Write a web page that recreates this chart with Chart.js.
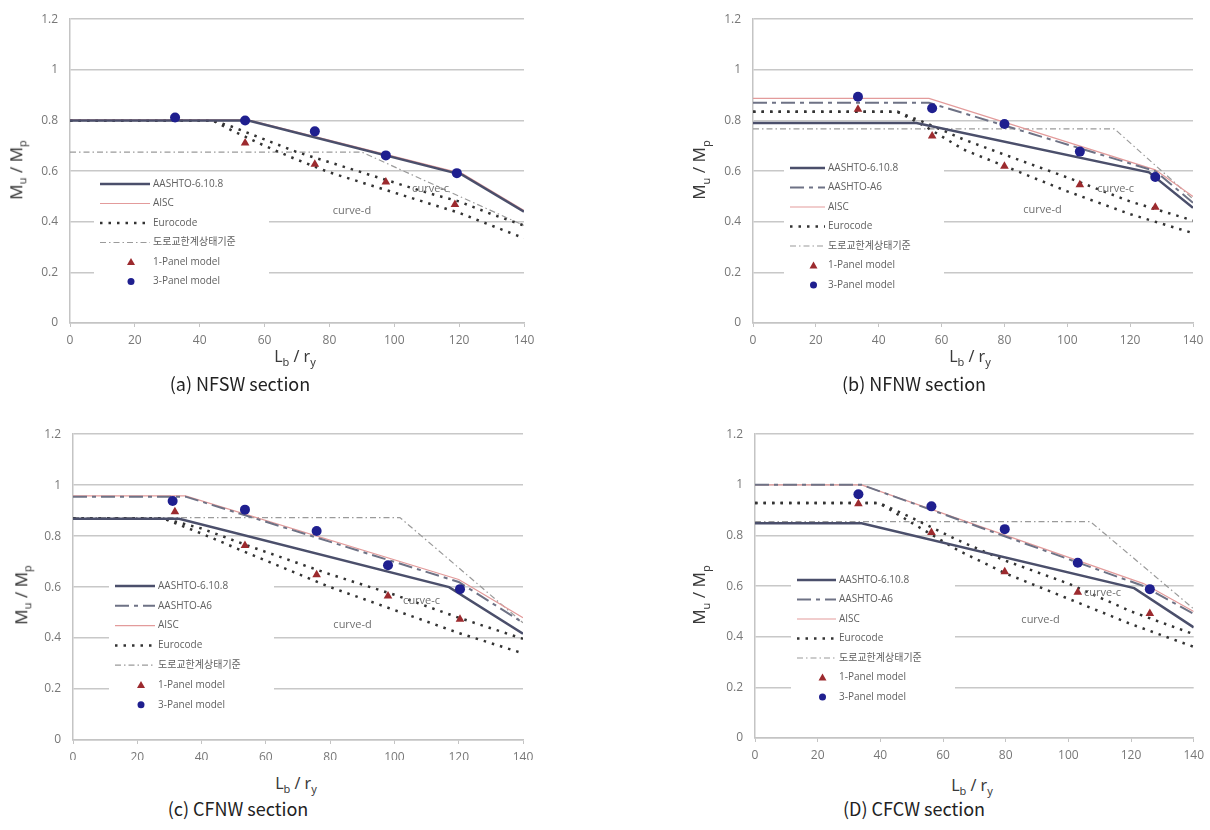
<!DOCTYPE html>
<html>
<head>
<meta charset="utf-8">
<script src="https://cdn.jsdelivr.net/npm/chart.js@4.4.0/dist/chart.umd.min.js"></script>
<style>
body{margin:0;background:#fff;width:1210px;height:830px;position:relative;overflow:hidden;font-family:"Noto Sans","Noto Sans CJK KR",sans-serif;}
canvas{position:absolute;}
.lbl{position:absolute;white-space:nowrap;color:#3a3a3a;font-size:16px;transform:translate(-50%,-50%);}
.ytl{font-size:17px;transform:translate(-50%,-50%) rotate(-90deg);}
.cap{position:absolute;white-space:nowrap;font-size:18px;color:#222;transform:translate(-50%,-50%);font-family:"Noto Sans CJK KR",sans-serif;}
sub{font-size:11px;}
</style>
</head>
<body>
<canvas id="pa" width="545" height="345" style="left:0;top:0"></canvas>
<canvas id="pb" width="530" height="345" style="left:680px;top:0"></canvas>
<canvas id="pc" width="545" height="345" style="left:0;top:415px"></canvas>
<canvas id="pd" width="530" height="345" style="left:680px;top:415px"></canvas>

<div class="lbl ytl" style="left:17px;top:170px">M<sub>u</sub> / M<sub>p</sub></div>
<div class="lbl" style="left:295px;top:357px">L<sub>b</sub> / r<sub>y</sub></div>
<div class="cap" style="left:240px;top:383px">(a) NFSW section</div>

<div class="lbl ytl" style="left:700px;top:170px">M<sub>u</sub> / M<sub>p</sub></div>
<div class="lbl" style="left:970px;top:357px">L<sub>b</sub> / r<sub>y</sub></div>
<div class="cap" style="left:914px;top:383px">(b) NFNW section</div>

<div class="lbl ytl" style="left:22px;top:595px">M<sub>u</sub> / M<sub>p</sub></div>
<div class="lbl" style="left:296px;top:784px">L<sub>b</sub> / r<sub>y</sub></div>
<div class="cap" style="left:238px;top:808px">(c) CFNW section</div>

<div class="lbl ytl" style="left:700px;top:595px">M<sub>u</sub> / M<sub>p</sub></div>
<div class="lbl" style="left:972px;top:786px">L<sub>b</sub> / r<sub>y</sub></div>
<div class="cap" style="left:914px;top:808px">(D) CFCW section</div>

<script>
// x = Lb/ry, y = Mu/Mp
const xTicks = [0, 20, 40, 60, 80, 100, 120, 140];
const yTicks = [0, 0.2, 0.4, 0.6, 0.8, 1, 1.2];

// (a) NFSW
const aAashto = [[0,0.80],[55,0.80],[121,0.585],[140,0.44]];
const aAisc = [[0,0.802],[55,0.802],[121,0.59],[140,0.445]];
const aEuroC = [[0,0.80],[44,0.80],[50,0.775],[60,0.725],[70,0.675],[80,0.635],[90,0.595],[100,0.555],[110,0.515],[120,0.48],[130,0.43],[140,0.385]];
const aEuroD = [[0,0.80],[44,0.80],[50,0.76],[60,0.70],[70,0.645],[80,0.595],[90,0.555],[100,0.515],[110,0.475],[120,0.435],[130,0.385],[140,0.335]];
const aDoro = [[0,0.675],[90,0.675],[140,0.385]];
const aPanel1 = [[54,0.711],[75.5,0.627],[97.4,0.557],[118.7,0.468]];
const aPanel3 = [[32.4,0.812],[54,0.80],[75.5,0.757],[97.4,0.662],[119.3,0.592]];

// (b) NFNW
const bAashto = [[0,0.79],[52,0.79],[126,0.595],[140,0.455]];
const bA6 = [[0,0.87],[56,0.87],[128,0.60],[140,0.475]];
const bAisc = [[0,0.887],[56,0.887],[128,0.605],[140,0.50]];
const bEuroC = [[0,0.834],[46,0.834],[55,0.79],[67,0.725],[80,0.665],[100,0.575],[120,0.48],[140,0.405]];
const bEuroD = [[0,0.834],[46,0.834],[55,0.775],[67,0.685],[80,0.62],[100,0.52],[120,0.43],[140,0.355]];
const bDoro = [[0,0.767],[115,0.767],[140,0.49]];
const bPanel1 = [[33.4,0.844],[57,0.739],[80,0.619],[104,0.546],[128,0.457]];
const bPanel3 = [[33.4,0.894],[57,0.848],[80,0.786],[104,0.677],[128,0.577]];

// (c) CFNW
const cAashto = [[0,0.868],[33,0.868],[117,0.60],[140,0.417]];
const cA6 = [[0,0.955],[35,0.955],[120,0.62],[140,0.46]];
const cAisc = [[0,0.958],[35,0.958],[120,0.63],[140,0.48]];
const cEuroC = [[0,0.87],[28,0.87],[40,0.83],[55,0.76],[80,0.65],[100,0.57],[120,0.48],[140,0.397]];
const cEuroD = [[0,0.87],[28,0.87],[40,0.81],[55,0.73],[80,0.60],[100,0.51],[120,0.42],[140,0.34]];
const cDoro = [[0,0.873],[101.7,0.873],[140,0.46]];
const cPanel1 = [[31.7,0.896],[53.5,0.763],[75.8,0.648],[98,0.565],[120.4,0.474]];
const cPanel3 = [[31,0.938],[53.5,0.904],[75.8,0.82],[98,0.686],[120.4,0.592]];

// (D) CFCW
const dAashto = [[0,0.848],[34,0.848],[121,0.592],[140,0.437]];
const dA6 = [[0,1.0],[34,1.0],[124,0.60],[140,0.49]];
const dAisc = [[0,1.0],[34,1.0],[124,0.61],[140,0.50]];
const dEuroC = [[0,0.928],[39.6,0.928],[50,0.87],[65,0.78],[80,0.70],[100,0.61],[120,0.50],[140,0.41]];
const dEuroD = [[0,0.928],[39.6,0.928],[50,0.85],[65,0.74],[80,0.65],[100,0.55],[120,0.45],[140,0.36]];
const dDoro = [[0,0.855],[107,0.855],[140,0.51]];
const dPanel1 = [[33,0.925],[56.3,0.812],[79.7,0.657],[103,0.576],[126,0.492]];
const dPanel3 = [[33,0.963],[56.3,0.915],[79.7,0.825],[103,0.692],[126,0.588]];

const styles = {
    'AASHTO-6.10.8': {color: '#4b4f6b', width: 2.5, dash: []},
    'AASHTO-A6': {color: '#6e7285', width: 2, dash: [14, 5, 4, 5]},
    'AISC': {color: '#e39b9b', width: 1.2, dash: []},
    'Eurocode': {color: '#333333', width: 2.5, dash: [2.5, 6]},
    '도로교한계상태기준': {color: '#9a9a9a', width: 1.2, dash: [6, 3, 1.5, 3]},
    '1-Panel model': {color: '#9c2a2e', point: 'triangle'},
    '3-Panel model': {color: '#1f1f8f', point: 'circle'}
};

const toXY = arr => arr.map(p => ({x: p[0], y: p[1]}));

const makeDataset = (label, data) => {
    const s = styles[label];
    if (s.point) {
        return {
            label: label, data: toXY(data), showLine: false,
            pointStyle: s.point, pointRadius: 5, pointHoverRadius: 5,
            backgroundColor: s.color, borderColor: s.color, borderWidth: 0
        };
    }
    return {
        label: label, data: toXY(data), showLine: true, pointRadius: 0,
        borderColor: s.color, borderWidth: s.width, borderDash: s.dash,
        backgroundColor: s.color, fill: false, tension: 0
    };
};

// legend + curve labels drawn inside the plot
const innerPlugin = {
    id: 'inner',
    beforeDatasetsDraw(chart, args, opts) {
        const ctx = chart.ctx;
        const lg = opts.legend;
        ctx.save();
        ctx.fillStyle = '#ffffff';
        ctx.fillRect(lg.x - 6, lg.y - 11, lg.len + 125, lg.items.length * lg.step + 4);
        ctx.font = '10px "Open Sans", "Noto Sans CJK KR", sans-serif';
        ctx.textBaseline = 'middle';
        lg.items.forEach((name, i) => {
            const s = styles[name];
            const y = lg.y + i * lg.step;
            if (s.point) {
                ctx.fillStyle = s.color;
                const cx = lg.x + lg.len / 2 + 6;
                ctx.beginPath();
                if (s.point === 'circle') {
                    ctx.arc(cx, y, 3.5, 0, Math.PI * 2);
                } else {
                    ctx.moveTo(cx, y - 4); ctx.lineTo(cx + 4, y + 3); ctx.lineTo(cx - 4, y + 3); ctx.closePath();
                }
                ctx.fill();
            } else {
                ctx.strokeStyle = s.color;
                ctx.lineWidth = s.width;
                ctx.setLineDash(s.dash);
                ctx.beginPath();
                ctx.moveTo(lg.x, y); ctx.lineTo(lg.x + lg.len, y);
                ctx.stroke();
                ctx.setLineDash([]);
            }
            ctx.fillStyle = '#606060';
            ctx.fillText(name, lg.x + lg.len + 3, y);
        });
        ctx.restore();
    },
    afterDatasetsDraw(chart, args, opts) {
        const ctx = chart.ctx;
        const sx = chart.scales.x, sy = chart.scales.y;
        ctx.save();
        ctx.font = '11px "Open Sans", sans-serif';
        ctx.fillStyle = '#707070';
        ctx.textBaseline = 'middle';
        ctx.fillText('curve-c', sx.getPixelForValue(opts.curveC[0]), sy.getPixelForValue(opts.curveC[1]));
        ctx.fillText('curve-d', sx.getPixelForValue(opts.curveD[0]), sy.getPixelForValue(opts.curveD[1]));
        ctx.restore();
    }
};

const makePanel = (id, cfg) => {
    const cv = document.getElementById(id);
    const tickFont = {size: 12, family: '"Open Sans", sans-serif'};
    new Chart(cv.getContext('2d'), {
        type: 'scatter',
        data: {datasets: cfg.series.map(s => makeDataset(s[0], s[1]))},
        options: {
            responsive: false,
            animation: false,
            layout: {padding: {top: cfg.area.t, right: cv.width - cfg.area.r, left: 0, bottom: 0}},
            plugins: {
                legend: {display: false},
                tooltip: {enabled: false},
                inner: {legend: cfg.legend, curveC: cfg.curveC, curveD: cfg.curveD}
            },
            scales: {
                x: {
                    type: 'linear', min: 0, max: 140,
                    afterBuildTicks: sc => { sc.ticks = xTicks.map(v => ({value: v})); },
                    afterFit: sc => { sc.height = cv.height - cfg.area.b; },
                    ticks: {font: tickFont, color: '#777777', padding: 6},
                    grid: {drawOnChartArea: false, drawTicks: true, tickLength: 4, color: '#c4c4c4'},
                    border: {color: '#c4c4c4', width: 1.5}
                },
                y: {
                    min: 0, max: 1.2,
                    afterBuildTicks: sc => { sc.ticks = yTicks.map(v => ({value: v})); },
                    afterFit: sc => { sc.width = cfg.area.l; },
                    ticks: {font: tickFont, color: '#777777', padding: 12, callback: v => String(v)},
                    grid: {color: '#c8c8c8', lineWidth: 1.5, drawTicks: false},
                    border: {color: '#c4c4c4', width: 1.5}
                }
            }
        },
        plugins: [innerPlugin]
    });
};

makePanel('pa', {
    area: {l: 70, r: 524, t: 14, b: 323},
    series: [['1-Panel model', aPanel1], ['3-Panel model', aPanel3], ['AASHTO-6.10.8', aAashto],
        ['AISC', aAisc], ['Eurocode', aEuroC], ['Eurocode', aEuroD], ['도로교한계상태기준', aDoro]],
    legend: {x: 100, y: 184, step: 19.5, len: 50,
        items: ['AASHTO-6.10.8', 'AISC', 'Eurocode', '도로교한계상태기준', '1-Panel model', '3-Panel model']},
    curveC: [105.5, 0.528], curveD: [81, 0.443]
});

makePanel('pb', {
    area: {l: 73, r: 513, t: 14, b: 323},
    series: [['1-Panel model', bPanel1], ['3-Panel model', bPanel3], ['AASHTO-6.10.8', bAashto],
        ['AASHTO-A6', bA6], ['AISC', bAisc], ['Eurocode', bEuroC], ['Eurocode', bEuroD], ['도로교한계상태기준', bDoro]],
    legend: {x: 110, y: 168, step: 19.5, len: 35,
        items: ['AASHTO-6.10.8', 'AASHTO-A6', 'AISC', 'Eurocode', '도로교한계상태기준', '1-Panel model', '3-Panel model']},
    curveC: [109.5, 0.528], curveD: [86, 0.446]
});

makePanel('pc', {
    area: {l: 73, r: 523, t: 13, b: 325},
    series: [['1-Panel model', cPanel1], ['3-Panel model', cPanel3], ['AASHTO-6.10.8', cAashto],
        ['AASHTO-A6', cA6], ['AISC', cAisc], ['Eurocode', cEuroC], ['Eurocode', cEuroD], ['도로교한계상태기준', cDoro]],
    legend: {x: 115, y: 171, step: 19.8, len: 40,
        items: ['AASHTO-6.10.8', 'AASHTO-A6', 'AISC', 'Eurocode', '도로교한계상태기준', '1-Panel model', '3-Panel model']},
    curveC: [102.7, 0.546], curveD: [81, 0.45]
});

makePanel('pd', {
    area: {l: 75, r: 517, t: 13, b: 323},
    series: [['1-Panel model', dPanel1], ['3-Panel model', dPanel3], ['AASHTO-6.10.8', dAashto],
        ['AASHTO-A6', dA6], ['AISC', dAisc], ['Eurocode', dEuroC], ['Eurocode', dEuroD], ['도로교한계상태기준', dDoro]],
    legend: {x: 117, y: 165, step: 19.5, len: 39,
        items: ['AASHTO-6.10.8', 'AASHTO-A6', 'AISC', 'Eurocode', '도로교한계상태기준', '1-Panel model', '3-Panel model']},
    curveC: [105, 0.573], curveD: [85, 0.468]
});
</script>
</body>
</html>
